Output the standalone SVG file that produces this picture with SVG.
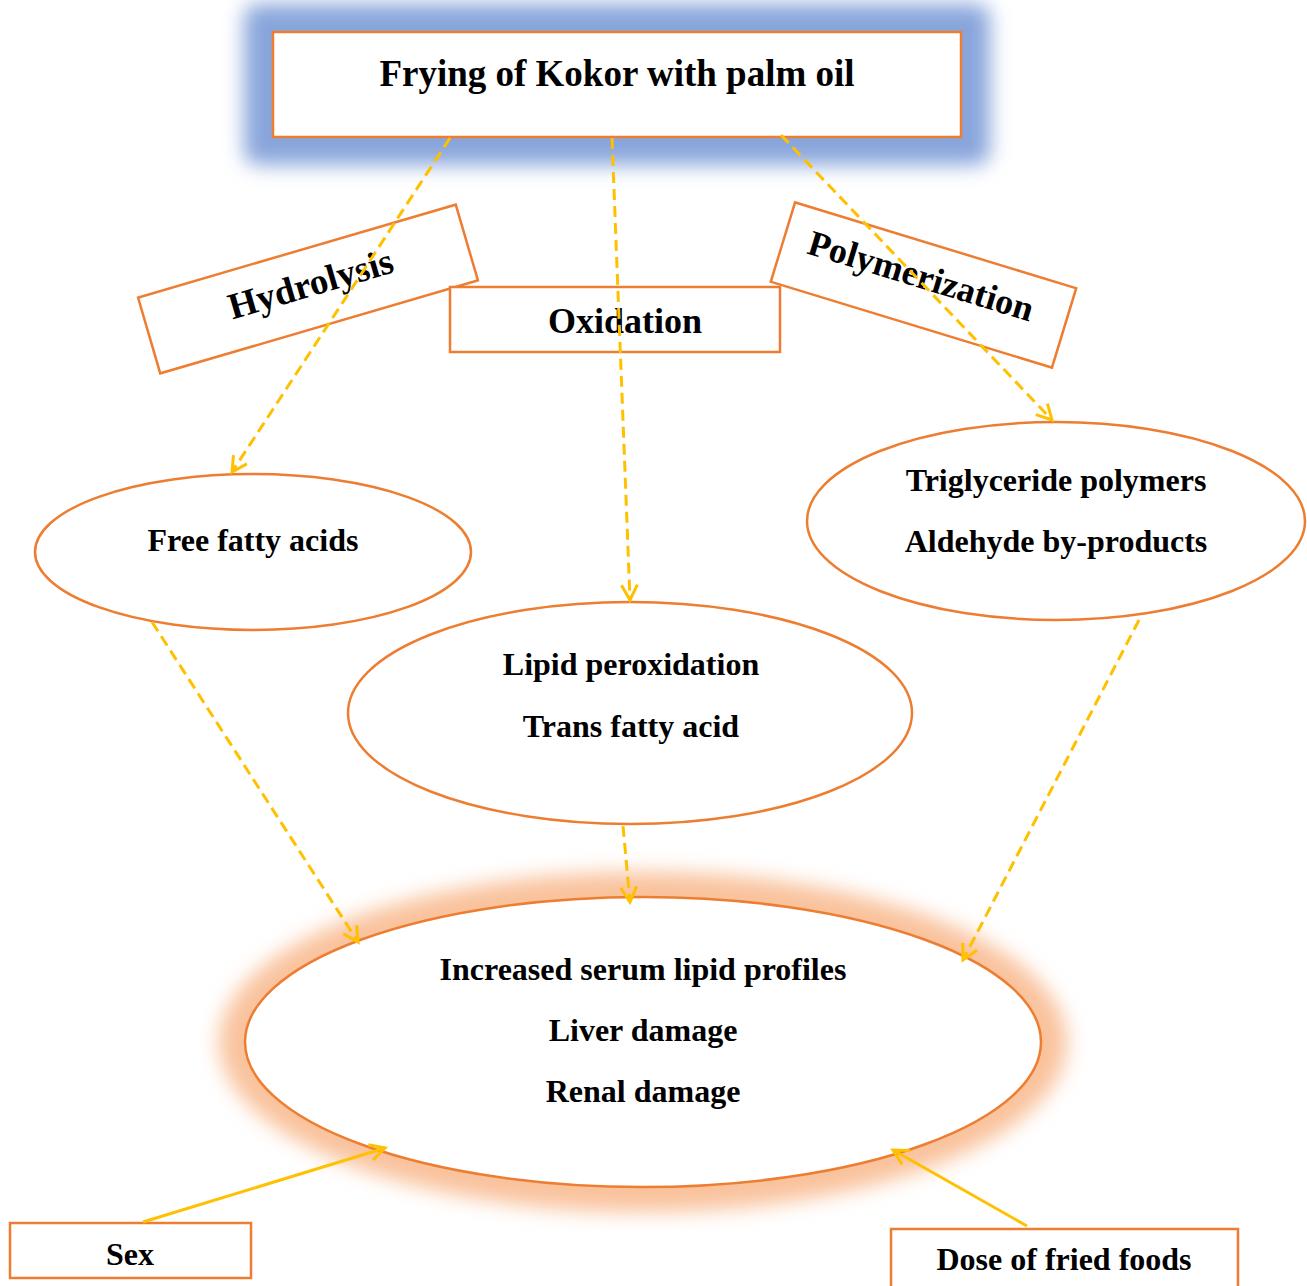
<svg xmlns="http://www.w3.org/2000/svg" width="1307" height="1286" viewBox="0 0 1307 1286">
<style>
.box{fill:#fff;stroke:#ED7D31;stroke-width:2.5}
.t{font-family:"Liberation Serif","Times New Roman",serif;font-weight:bold;fill:#000;text-anchor:middle}
.dash{stroke:#FFC000;stroke-width:3;fill:none;stroke-dasharray:11 6}
.solid{stroke:#FFC000;stroke-width:3;fill:none}
</style>
<defs>
<filter id="blur" x="-20%" y="-40%" width="140%" height="180%"><feGaussianBlur stdDeviation="10"/></filter>
<marker id="arr" markerUnits="userSpaceOnUse" markerWidth="20" markerHeight="20" viewBox="0 0 20 20" refX="17" refY="10" orient="auto">
<path d="M2,2 L17,10 L2,18" fill="none" stroke="#FFC000" stroke-width="3"/>
</marker>
</defs>
<rect width="1307" height="1286" fill="#fff"/>
<g id="glows">
<rect x="244" y="4" width="746" height="161" rx="14" fill="#88A5DB" filter="url(#blur)"/>
<ellipse cx="643" cy="1042" rx="424" ry="170" fill="#F9C29C" filter="url(#blur)"/>
</g>
<g id="n-top">
<rect class="box" x="273" y="32" width="688" height="105"/>
<text class="t" x="617" y="86" font-size="37">Frying of Kokor with palm oil</text>
</g>
<g id="n-hydrolysis" transform="translate(308,289) rotate(-16.3)">
<rect class="box" x="-165.5" y="-39.5" width="331" height="79"/>
<text class="t" x="4" y="8" font-size="37">Hydrolysis</text>
</g>
<g id="n-oxidation">
<rect class="box" x="450" y="287" width="330" height="65"/>
<text class="t" x="625" y="333" font-size="36">Oxidation</text>
</g>
<g id="n-polymerization" transform="translate(923.5,285) rotate(17)">
<rect class="box" x="-147" y="-41.5" width="294" height="83"/>
<text class="t" x="-5" y="4" font-size="36">Polymerization</text>
</g>
<g id="n-ffa">
<ellipse class="box" cx="253" cy="552" rx="218" ry="78"/>
<text class="t" x="253" y="551" font-size="32">Free fatty acids</text>
</g>
<g id="n-tri">
<ellipse class="box" cx="1056" cy="521" rx="249" ry="99"/>
<text class="t" x="1056" y="491" font-size="32">Triglyceride polymers</text>
<text class="t" x="1056" y="552" font-size="32">Aldehyde by-products</text>
</g>
<g id="n-lipid">
<ellipse class="box" cx="630" cy="713" rx="282" ry="111"/>
<text class="t" x="631" y="675" font-size="32">Lipid peroxidation</text>
<text class="t" x="631" y="737" font-size="32">Trans fatty acid</text>
</g>
<g id="n-outcome">
<ellipse class="box" cx="643" cy="1042" rx="398" ry="145"/>
<text class="t" x="643" y="980" font-size="32">Increased serum lipid profiles</text>
<text class="t" x="643" y="1041" font-size="32">Liver damage</text>
<text class="t" x="643" y="1102" font-size="32">Renal damage</text>
</g>
<g id="n-sex">
<rect class="box" x="10" y="1223" width="241" height="55"/>
<text class="t" x="130" y="1265" font-size="32">Sex</text>
</g>
<g id="n-dose">
<rect class="box" x="891" y="1229" width="347" height="70"/>
<text class="t" x="1064" y="1270" font-size="32">Dose of fried foods</text>
</g>
<g id="connectors">
<line class="dash" x1="450" y1="138" x2="232" y2="472" marker-end="url(#arr)"/>
<line class="dash" x1="612" y1="138" x2="630" y2="600" marker-end="url(#arr)"/>
<line class="dash" x1="781" y1="135" x2="1052" y2="420" marker-end="url(#arr)"/>
<line class="dash" x1="152" y1="622" x2="358" y2="942" marker-end="url(#arr)"/>
<line class="dash" x1="623" y1="826" x2="630" y2="902" marker-end="url(#arr)"/>
<line class="dash" x1="1139" y1="620" x2="963" y2="960" marker-end="url(#arr)"/>
<line class="solid" x1="143" y1="1222" x2="385" y2="1148" marker-end="url(#arr)"/>
<line class="solid" x1="1027" y1="1226" x2="893" y2="1150" marker-end="url(#arr)"/>
</g>
</svg>
